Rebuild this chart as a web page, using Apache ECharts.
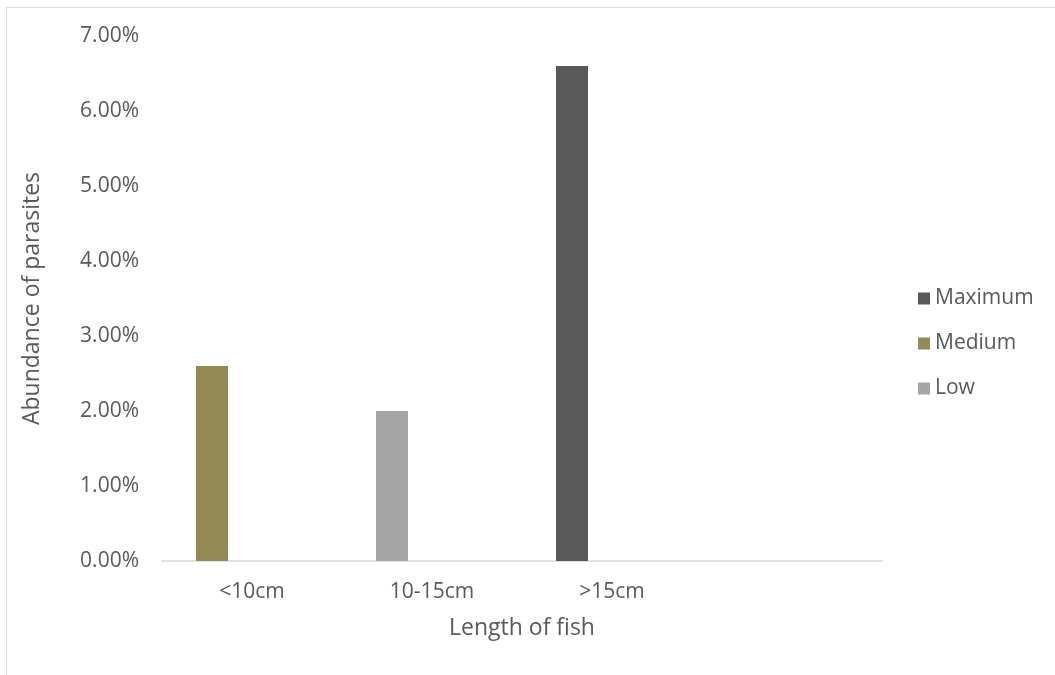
<!DOCTYPE html>
<html>
<head>
<meta charset="utf-8">
<title>Abundance of parasites by length of fish</title>
<script src="https://cdn.jsdelivr.net/npm/echarts@6/dist/echarts.min.js"></script>
<style>
  html, body { margin: 0; padding: 0; background: #ffffff; }
  #chart { width: 1055px; height: 675px; }
</style>
</head>
<body>
<div id="chart"></div>
<script>
// Fish length classes (the fourth slot is left empty on the axis)
const categories = ['<10cm', '10-15cm', '>15cm', ''];

// Share of fish carrying each parasite load, per length class
const maximumValues = [null, null, 0.066, null];
const mediumValues  = [0.026, null, null, null];
const lowValues     = [null, 0.020, null, null];

const seriesNames = ['Maximum', 'Medium', 'Low'];
const seriesColors = ['#595959', '#948a54', '#a5a5a5'];

// y-axis range and step (fractions, shown as percentages)
const yMin = 0;
const yMax = 0.07;
const yStep = 0.01;

const textColor = '#595959';
const fontFamily = '"Open Sans", "Noto Sans", sans-serif';
const labelSize = 21;
const titleSize = 23;

const chart = echarts.init(document.getElementById('chart'), null, { renderer: 'canvas' });

const valueSets = [maximumValues, mediumValues, lowValues];

const series = seriesNames.map((name, i) => ({
  name: name,
  type: 'bar',
  stack: 'levels',
  barWidth: 32,
  barGap: '150%',
  itemStyle: { color: seriesColors[i] },
  data: valueSets[i]
}));

// empty companion slot so each drawn bar sits left of its category centre
series.push({
  name: 'slot',
  type: 'bar',
  stack: 'slot',
  barWidth: 32,
  barGap: '150%',
  silent: true,
  itemStyle: { color: 'rgba(0,0,0,0)' },
  data: categories.map(() => null)
});

chart.setOption({
  backgroundColor: '#ffffff',
  animation: false,
  textStyle: { fontFamily: fontFamily, color: textColor },
  graphic: [{
    type: 'rect',
    shape: { x: 6.5, y: 7.5, width: 1200, height: 800 },
    style: { fill: 'none', stroke: '#d9d9d9', lineWidth: 1 },
    silent: true
  }],
  grid: {
    left: 162,
    right: 173,
    top: 36,
    bottom: 114
  },
  legend: {
    orient: 'vertical',
    left: 918,
    top: 288,
    padding: 0,
    itemWidth: 12,
    itemHeight: 12,
    itemGap: 24,
    icon: 'rect',
    data: seriesNames,
    textStyle: { color: textColor, fontSize: labelSize, fontFamily: fontFamily }
  },
  xAxis: {
    type: 'category',
    data: categories,
    name: 'Length of fish',
    nameLocation: 'middle',
    nameGap: 56,
    nameTextStyle: { color: textColor, fontSize: titleSize, fontFamily: fontFamily },
    axisLine: { show: true, lineStyle: { color: '#d9d9d9', width: 1.5 } },
    axisTick: { show: false },
    axisLabel: { color: textColor, fontSize: labelSize, margin: 21, fontFamily: fontFamily },
    splitLine: { show: false }
  },
  yAxis: {
    type: 'value',
    min: yMin,
    max: yMax,
    interval: yStep,
    name: 'Abundance of parasites',
    nameLocation: 'middle',
    nameGap: 118,
    nameRotate: 90,
    nameTextStyle: { color: textColor, fontSize: titleSize, fontFamily: fontFamily },
    axisLine: { show: false },
    axisTick: { show: false },
    splitLine: { show: false },
    axisLabel: {
      color: textColor,
      fontSize: labelSize,
      margin: 23,
      fontFamily: fontFamily,
      formatter: v => (v * 100).toFixed(2) + '%'
    }
  },
  series: series
});
</script>
</body>
</html>
